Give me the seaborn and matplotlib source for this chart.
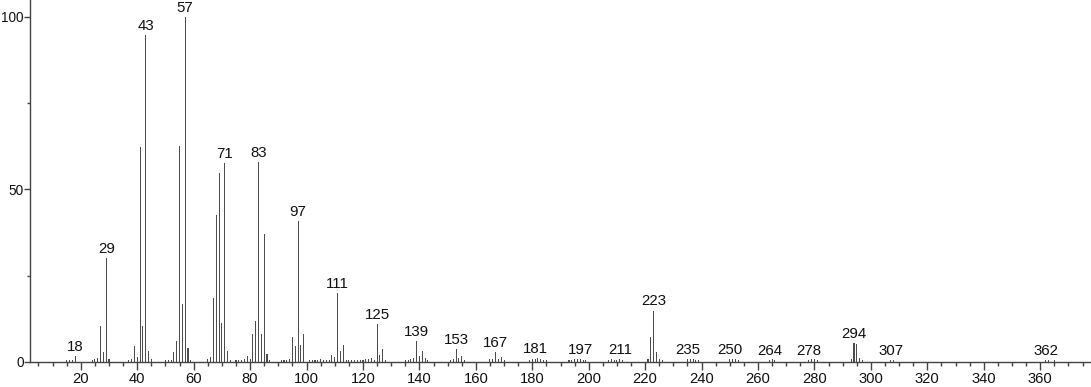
import numpy as np
import pandas as pd
import matplotlib
matplotlib.use("Agg")
import matplotlib.pyplot as plt
import seaborn as sns
from matplotlib.ticker import MultipleLocator, FixedLocator

# m/z values and relative intensities
mz = [15, 16, 17, 18,
      24, 25, 26, 27, 28, 29, 30,
      37, 38, 39, 40, 41, 42, 43, 44, 45,
      50, 51, 52, 53, 54, 55, 56, 57, 58, 59,
      65, 66, 67, 68, 69, 70, 71, 72, 73,
      75, 76, 77, 78, 79, 80, 81, 82, 83, 84, 85, 86, 87,
      91, 92, 93, 94, 95, 96, 97, 98, 99,
      101, 102, 103, 104, 105, 106, 107, 108, 109, 110, 111, 112, 113,
      114, 115, 116, 117, 118, 119, 120, 121, 122, 123, 124, 125, 126, 127, 128,
      135, 136, 137, 138, 139, 140, 141, 142, 143,
      151, 152, 153, 154, 155, 156,
      165, 166, 167, 168, 169, 170,
      179, 180, 181, 182, 183, 184, 185,
      193, 194, 195, 196, 197, 198, 199,
      207, 208, 209, 210, 211, 212,
      221, 222, 223, 224, 225, 226,
      235, 236, 237, 238, 239,
      250, 251, 252, 253,
      264, 265, 266,
      278, 279, 280, 281,
      293, 294, 295, 296, 297,
      307, 308,
      362, 363, 365]
intensity = [0.6, 0.6, 0.7, 1.6,
             0.6, 0.8, 1.2, 10.3, 3.0, 30.1, 0.9,
             0.6, 0.8, 4.6, 1.5, 62.3, 10.3, 94.8, 3.2, 0.8,
             0.7, 0.7, 0.5, 3.0, 6.2, 62.6, 16.9, 100.0, 4.1, 0.5,
             0.8, 1.5, 18.6, 42.6, 54.8, 11.4, 57.7, 3.1, 0.5,
             0.5, 0.6, 0.6, 1.0, 1.8, 1.0, 8.1, 11.9, 57.9, 8.1, 37.2, 2.3, 0.5,
             0.6, 0.5, 0.6, 1.0, 7.2, 4.6, 40.9, 5.0, 8.1,
             0.5, 0.6, 0.5, 0.6, 0.8, 0.5, 0.6, 0.6, 2.0, 1.5, 20.0, 3.3, 4.9,
             0.6, 0.5, 0.5, 0.6, 0.5, 0.7, 0.6, 0.8, 0.8, 1.3, 0.5, 10.9, 2.0, 3.8, 0.6,
             0.5, 0.6, 0.8, 1.2, 6.1, 1.6, 3.3, 1.2, 0.5,
             0.7, 0.8, 3.8, 1.2, 1.7, 0.7,
             0.8, 0.9, 2.8, 1.0, 1.4, 0.5,
             0.6, 0.9, 1.0, 1.1, 0.9, 0.6, 0.5,
             0.5, 0.7, 0.8, 0.8, 0.9, 0.7, 0.5,
             0.6, 0.8, 0.6, 0.6, 0.9, 0.7,
             0.8, 7.3, 14.9, 2.8, 1.0, 0.5,
             0.9, 0.8, 1.0, 0.7, 0.6,
             0.9, 1.0, 0.8, 0.5,
             0.7, 0.9, 0.6,
             0.6, 0.8, 0.9, 0.6,
             0.8, 5.4, 5.2, 1.2, 0.5,
             0.6, 0.6,
             0.6, 0.7, 0.5]

# peaks that carry an m/z label
labelled_mz = [18, 29, 43, 57, 71, 83, 97, 111, 125, 139, 153, 167, 181,
               197, 211, 223, 235, 250, 264, 278, 294, 307, 362]

x_ticks = list(range(20, 361, 20))
y_ticks = [0, 50, 100]

df = pd.DataFrame({"mz": mz, "intensity": intensity})
lookup = dict(zip(mz, intensity))

sns.set_theme(style="ticks")
plt.rcParams["font.family"] = ["Liberation Sans", "DejaVu Sans"]

fig = plt.figure(figsize=(10.91, 3.87), dpi=100)
ax = fig.add_axes([0.0275, 0.0646, 0.9725, 0.9354])

sns.barplot(data=df, x="mz", y="intensity", native_scale=True, orient="x",
            width=0.38, color="#4d4d4d", saturation=1, errorbar=None,
            linewidth=0, ax=ax)

for m in labelled_mz:
    ax.annotate(str(m), (m, lookup.get(m, 0.5)), xytext=(0, 1.5),
                textcoords="offset points", ha="center", va="bottom",
                fontsize=10.8, color="#111111")

ax.set_xlim(2, 378)
ax.set_ylim(0, 104.9)
ax.set_xlabel("")
ax.set_ylabel("")

ax.xaxis.set_major_locator(FixedLocator(x_ticks))
ax.set_xticklabels([str(t) for t in x_ticks])
ax.xaxis.set_minor_locator(MultipleLocator(5))
ax.yaxis.set_major_locator(FixedLocator(y_ticks))
ax.set_yticklabels([str(t) for t in y_ticks])
ax.yaxis.set_minor_locator(FixedLocator([25, 75]))

for s in ["top", "right"]:
    ax.spines[s].set_visible(False)
for s in ["left", "bottom"]:
    ax.spines[s].set_color("#444444")
    ax.spines[s].set_linewidth(1.0)

ax.tick_params(axis="x", which="major", direction="out", length=6, width=1,
               color="#444444", labelsize=10.6, pad=1, labelcolor="#111111")
ax.tick_params(axis="x", which="minor", direction="out", length=3, width=1,
               color="#444444")
ax.tick_params(axis="y", which="major", direction="out", length=4, width=1,
               color="#444444", labelsize=9.8, pad=0.5, labelcolor="#111111")
ax.tick_params(axis="y", which="minor", direction="out", length=2.5, width=1,
               color="#444444")

fig.savefig("out.png", dpi=100)
